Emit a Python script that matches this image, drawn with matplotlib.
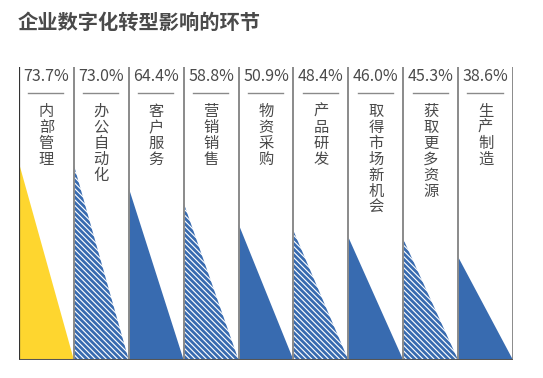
import matplotlib
matplotlib.use("Agg")
import matplotlib.pyplot as plt
from matplotlib.patches import Polygon

plt.rcParams['font.family'] = ['Noto Sans CJK SC', 'DejaVu Sans']
plt.rcParams['hatch.linewidth'] = 2.0

TITLE = "企业数字化转型影响的环节"
labels = ["内部管理", "办公自动化", "客户服务", "营销销售", "物资采购",
          "产品研发", "取得市场新机会", "获取更多资源", "生产制造"]
values = [73.7, 73.0, 64.4, 58.8, 50.9, 48.4, 46.0, 45.3, 38.6]
styles = ["yellow", "hatch", "solid", "hatch", "solid", "hatch", "solid", "hatch", "solid"]

YELLOW = "#FED62F"
BLUE = "#386BB0"
TXT = "#4a4a4a"
GRID = "#8a8a8a"

W, H = 543, 378
fig = plt.figure(figsize=(W / 100, H / 100), dpi=100)
fig.text(18 / W, 1 - 22 / H, TITLE, fontsize=14.6, color=TXT,
         fontweight="bold", va="center", ha="left")

ax = fig.add_axes([19 / W, 18 / H, 494 / W, 293 / H])
ax.set_xlim(0, len(values))
ax.set_ylim(0, 109.7)
ax.axis("off")

for i, (lab, v, st) in enumerate(zip(labels, values, styles)):
    pts = [(i, 0), (i, v), (i + 1, 0)]
    if st == "yellow":
        p = Polygon(pts, closed=True, facecolor=YELLOW, edgecolor="none", zorder=2)
    elif st == "solid":
        p = Polygon(pts, closed=True, facecolor=BLUE, edgecolor="none", zorder=2)
    else:
        p = Polygon(pts, closed=True, facecolor="white", edgecolor=BLUE,
                    hatch="\\" * 6, lw=0, zorder=2)
    ax.add_patch(p)
    cx = i + 0.5
    ax.text(cx, 106.3, f"{v:.1f}%", ha="center", va="center",
            fontsize=11.5, color=TXT, zorder=4)
    ax.plot([cx - 0.33, cx + 0.31], [100, 100], color=GRID, lw=1.0, zorder=4)
    for k, ch in enumerate(lab):
        ax.text(cx, 93.0 - k * 5.95, ch, ha="center", va="center",
                fontsize=11, color=TXT, zorder=4)

# column separators
ax.vlines(range(1, len(values) + 1), 0, 109.7, color=GRID, lw=1.4, zorder=3)
ax.vlines([0], 0, 109.7, color="#333333", lw=1.6, zorder=3)
ax.hlines([0], 0, len(values) + 0.02, color="#555555", lw=2.2, zorder=5)

fig.savefig("out.png", dpi=100)
